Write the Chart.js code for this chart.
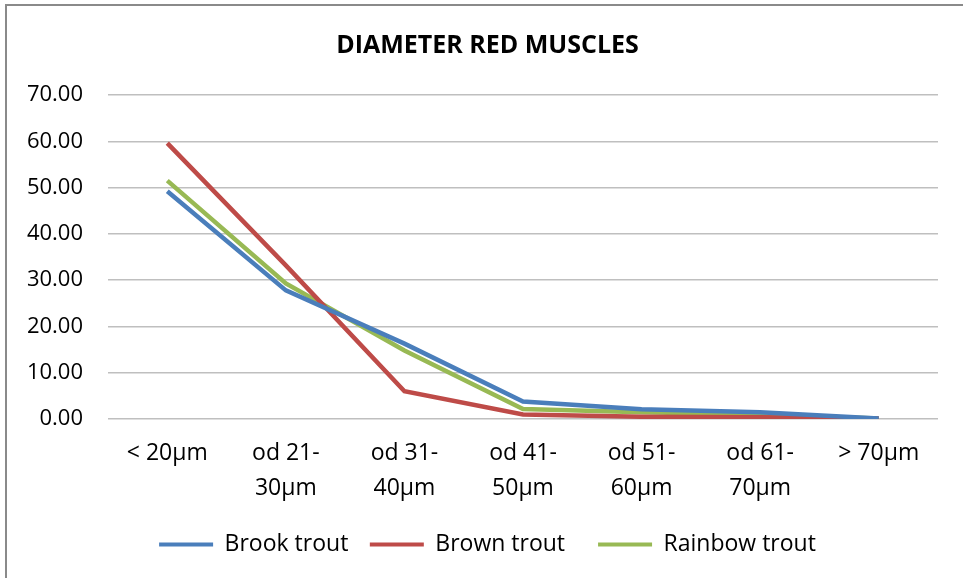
<!DOCTYPE html>
<html>
<head>
<meta charset="utf-8">
<script src="https://cdn.jsdelivr.net/npm/chart.js@4/dist/chart.umd.min.js"></script>
<style>
html,body{margin:0;padding:0;background:#fff;}
#wrap{position:absolute;left:5px;top:4px;width:958px;height:574px;box-sizing:border-box;border-top:2px solid #8a8a8a;border-left:2px solid #8a8a8a;}
canvas{display:block;margin-left:-4px;}
</style>
</head>
<body>
<div id="wrap"><canvas id="c" width="960" height="572"></canvas></div>
<script>
const categories = [["< 20µm"], ["od 21-","30µm"], ["od 31-","40µm"], ["od 41-","50µm"], ["od 51-","60µm"], ["od 61-","70µm"], ["> 70µm"]];
const brookTrout = [49.2, 27.8, 16.3, 3.8, 2.1, 1.5, 0.1];
const brownTrout = [59.6, 33.2, 6.0, 1.0, 0.5, 0.4, 0.1];
const rainbowTrout = [51.5, 29.3, 14.8, 2.2, 1.5, 1.0, 0.1];
const yTicks = [0, 10, 20, 30, 40, 50, 60, 70];
const legendGaps = ['\u2002', '\u2002\u2002', ''];

const FONT = "'Open Sans', sans-serif";
const unclipY = {id: 'unclipY', afterLayout(chart) { chart.scales.y.left = 0; }};
new Chart(document.getElementById('c'), {
  type: 'line',
  plugins: [unclipY],
  data: {
    labels: categories,
    datasets: [
      {label: 'Brook trout', data: brookTrout, borderColor: '#4a7ebb', backgroundColor: '#4a7ebb', borderWidth: 4.5, pointRadius: 0, tension: 0},
      {label: 'Brown trout', data: brownTrout, borderColor: '#be4b48', backgroundColor: '#be4b48', borderWidth: 4.5, pointRadius: 0, tension: 0},
      {label: 'Rainbow trout', data: rainbowTrout, borderColor: '#98b954', backgroundColor: '#98b954', borderWidth: 4.5, pointRadius: 0, tension: 0}
    ]
  },
  options: {
    responsive: false,
    animation: false,
    layout: {padding: {left: 34, right: 25, top: 14, bottom: 12}},
    plugins: {
      title: {display: true, text: 'DIAMETER RED MUSCLES', color: '#000', font: {family: FONT, size: 25, weight: 'bold'}, padding: {top: 11, bottom: 34}},
      legend: {position: 'bottom', labels: {boxWidth: 54, boxHeight: 4, color: '#000', font: {family: FONT, size: 23}, padding: 10, generateLabels: (chart) => chart.data.datasets.map((d, i) => ({text: d.label + legendGaps[i], fillStyle: d.borderColor, strokeStyle: d.borderColor, lineWidth: 0, datasetIndex: i}))}},
      tooltip: {enabled: false}
    },
    scales: {
      x: {
        offset: true,
        grid: {display: false, drawTicks: false},
        border: {display: false},
        ticks: {color: '#000', font: {family: FONT, size: 23, lineHeight: 1.52}, maxRotation: 0, autoSkip: false, padding: 17}
      },
      y: {
        min: 0, max: 70,
        afterBuildTicks: (axis) => { axis.ticks = yTicks.map(v => ({value: v})); },
        afterFit: (axis) => { axis.width = 71; },
        grid: {color: '#bfbfbf', lineWidth: 1.5, drawTicks: false},
        border: {display: false},
        ticks: {color: '#000', font: {family: FONT, size: 22}, padding: 25, callback: (v) => Number(v).toFixed(2)}
      }
    }
  }
});
</script>
</body>
</html>
